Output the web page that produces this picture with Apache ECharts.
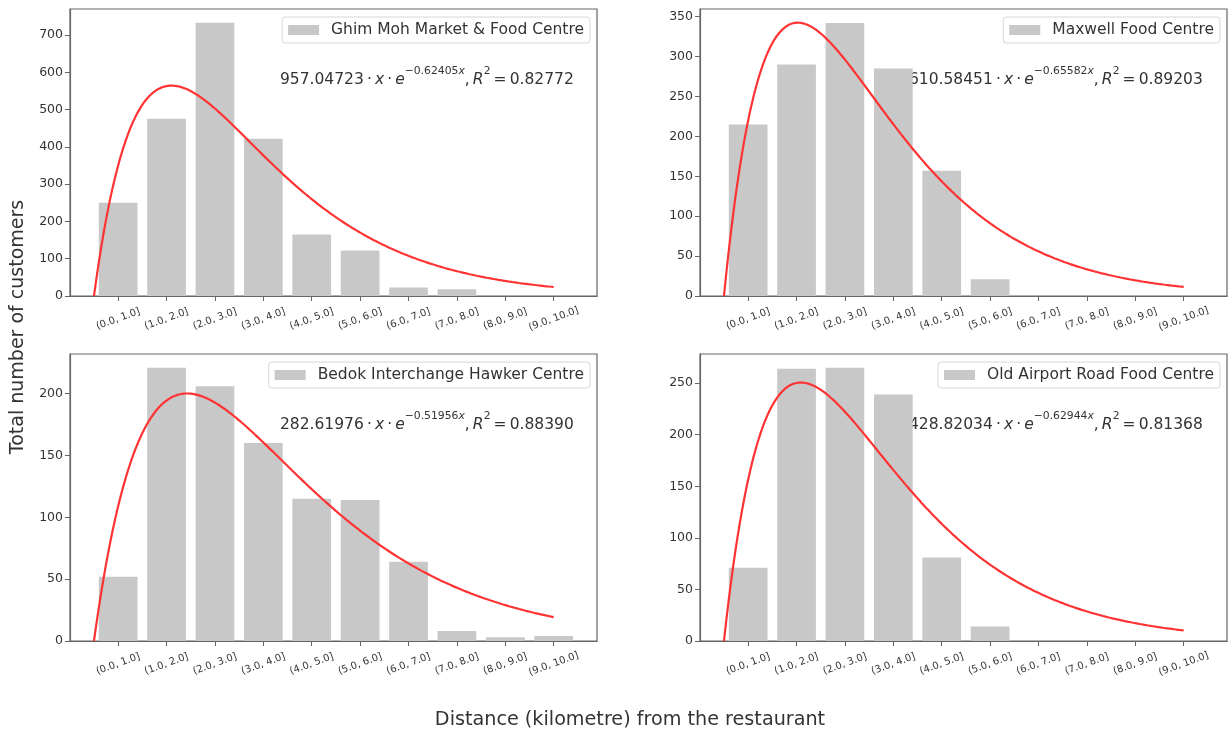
<!DOCTYPE html>
<html>
<head>
<meta charset="utf-8">
<script src="https://cdn.jsdelivr.net/npm/echarts@6/dist/echarts.min.js"></script>
<style>
  html, body { margin: 0; padding: 0; background: #fff; }
  #chart { width: 1232px; height: 732px; }
</style>
</head>
<body>
<div id="chart"></div>
<script>
// distance bins (km)
const categories = ['(0.0, 1.0]', '(1.0, 2.0]', '(2.0, 3.0]', '(3.0, 4.0]', '(4.0, 5.0]',
                    '(5.0, 6.0]', '(6.0, 7.0]', '(7.0, 8.0]', '(8.0, 9.0]', '(9.0, 10.0]'];
const centreNames = ['Ghim Moh Market & Food Centre', 'Maxwell Food Centre',
                     'Bedok Interchange Hawker Centre', 'Old Airport Road Food Centre'];
// customers per bin
const ghimMoh    = [250, 475, 733, 422, 165, 122, 23, 18, 0, 0];
const maxwell    = [215, 290, 342, 285, 157, 21, 0, 0, 0, 0];
const bedok      = [52, 221, 206, 160, 115, 114, 64, 8, 3, 4];
const oldAirport = [71, 264, 265, 239, 81, 14, 0, 0, 0, 0];
// fitted a*x*exp(-b*x) parameters as printed on the chart
const fitA = [957.04723, 610.58451, 282.61976, 428.82034];
const fitB = [0.62405, 0.65582, 0.51956, 0.62944];
const rSquared = ['0.82772', '0.89203', '0.88390', '0.81368'];
const yTicks = [
  [0, 100, 200, 300, 400, 500, 600, 700],
  [0, 50, 100, 150, 200, 250, 300, 350],
  [0, 50, 100, 150, 200],
  [0, 50, 100, 150, 200, 250]
];
const xTicks = [0, 1, 2, 3, 4, 5, 6, 7, 8, 9];

const W = 527, H = 287;
const X_MIN = -0.995, X_MAX = 9.895;
const FONT = 'DejaVu Sans';
const TXT = '#333333';
const SPINE = '#666666';

const panels = [
  { name: centreNames[0], bars: ghimMoh,    left: 70,  top: 9,   eqX: 280, eqY: 77 },
  { name: centreNames[1], bars: maxwell,    left: 700, top: 9,   eqX: 909, eqY: 77 },
  { name: centreNames[2], bars: bedok,      left: 70,  top: 354, eqX: 280, eqY: 422 },
  { name: centreNames[3], bars: oldAirport, left: 700, top: 354, eqX: 909, eqY: 422 }
];

function fitCurve(k) {
  const pts = [];
  for (let i = 0; i <= 200; i++) {
    const d = 9.5 * i / 200;
    pts.push([d - 0.5, fitA[k] * d * Math.exp(-fitB[k] * d)]);
  }
  return pts;
}

const TS = '\u2009'; // thin space, like mathtext spacing
function eqText(k) {
  return '{n|' + fitA[k].toFixed(5) + TS + '·' + TS + '}{i|x}{n|' + TS + '·' + TS + '}{i|e}{s|−' +
         fitB[k].toFixed(5) + '}{si|x}{n|,' + TS + '}{i|R}{s|2}{n|' + TS + '=' + TS + rSquared[k] + '}';
}

const grids = [], xAxes = [], yAxes = [], series = [], legends = [], graphics = [];
const barW = 0.8 * W / (X_MAX - X_MIN);

panels.forEach((p, k) => {
  const peak = fitA[k] / fitB[k] * Math.exp(-1);
  const yMax = Math.max(Math.max(...p.bars), peak) * 1.05;
  grids.push({ left: p.left, top: p.top, width: W, height: H, show: true,
               borderColor: SPINE, borderWidth: 1.2, backgroundColor: 'transparent' });
  xAxes.push({
    type: 'value', gridIndex: k, min: X_MIN, max: X_MAX,
    axisLine: { show: true, onZero: false, lineStyle: { color: SPINE, width: 1.2 } },
    axisTick: { show: true, customValues: xTicks, length: 5, lineStyle: { color: SPINE } },
    axisLabel: { customValues: xTicks, formatter: v => categories[Math.round(v)], rotate: 20,
                 align: 'center', verticalAlign: 'middle', margin: 23,
                 fontSize: 10, color: TXT, fontFamily: FONT },
    splitLine: { show: false }
  });
  yAxes.push({
    type: 'value', gridIndex: k, min: 0, max: yMax,
    axisLine: { show: true, onZero: false, lineStyle: { color: SPINE, width: 1.2 } },
    axisTick: { show: true, customValues: yTicks[k], length: 5, lineStyle: { color: SPINE } },
    axisLabel: { customValues: yTicks[k], fontSize: 12.5, color: TXT, fontFamily: FONT, margin: 7 },
    splitLine: { show: false }
  });
  series.push({
    name: p.name, type: 'bar', xAxisIndex: k, yAxisIndex: k, barWidth: barW,
    itemStyle: { color: '#c8c8c8' }, silent: true,
    data: p.bars.map((v, i) => [i, v])
  });
  series.push({
    name: 'fit' + k, type: 'line', xAxisIndex: k, yAxisIndex: k, showSymbol: false,
    lineStyle: { color: '#ff3333', width: 2.2 }, silent: true,
    data: fitCurve(k)
  });
  legends.push({
    data: [{ name: p.name, icon: 'rect' }], selectedMode: false,
    right: 1232 - (p.left + W) + 7, top: p.top + 8,
    padding: [5, 6, 5, 6], itemWidth: 31, itemHeight: 10,
    borderColor: '#d6d6d6', borderWidth: 1, borderRadius: 3,
    textStyle: { fontSize: 15.5, color: TXT, fontFamily: FONT, padding: [0, 0, 0, 7] }
  });
  graphics.push({
    type: 'text', x: p.eqX, y: p.eqY, silent: true,
    style: {
      text: eqText(k), verticalAlign: 'middle', fill: TXT,
      rich: {
        n:  { fontSize: 15.5, fontFamily: FONT, fill: TXT, lineHeight: 22, verticalAlign: 'bottom' },
        i:  { fontSize: 15.5, fontFamily: FONT, fontStyle: 'italic', fill: TXT, lineHeight: 22, verticalAlign: 'bottom' },
        s:  { fontSize: 10.8, fontFamily: FONT, fill: TXT, lineHeight: 22, verticalAlign: 'top' },
        si: { fontSize: 10.8, fontFamily: FONT, fontStyle: 'italic', fill: TXT, lineHeight: 22, verticalAlign: 'top' }
      }
    }
  });
});

graphics.push({
  type: 'text', x: 18, y: 327, rotation: Math.PI / 2, silent: true,
  style: { text: 'Total number of customers', fontSize: 19, fontFamily: FONT, fill: TXT,
           align: 'center', verticalAlign: 'middle' }
});
graphics.push({
  type: 'text', x: 630, y: 720, silent: true,
  style: { text: 'Distance (kilometre) from the restaurant', fontSize: 19.2, fontFamily: FONT, fill: TXT,
           align: 'center', verticalAlign: 'middle' }
});

const chart = echarts.init(document.getElementById('chart'), null, { renderer: 'canvas' });
chart.setOption({
  animation: false,
  textStyle: { fontFamily: FONT },
  grid: grids,
  xAxis: xAxes,
  yAxis: yAxes,
  legend: legends,
  series: series,
  graphic: graphics
});
</script>
</body>
</html>
